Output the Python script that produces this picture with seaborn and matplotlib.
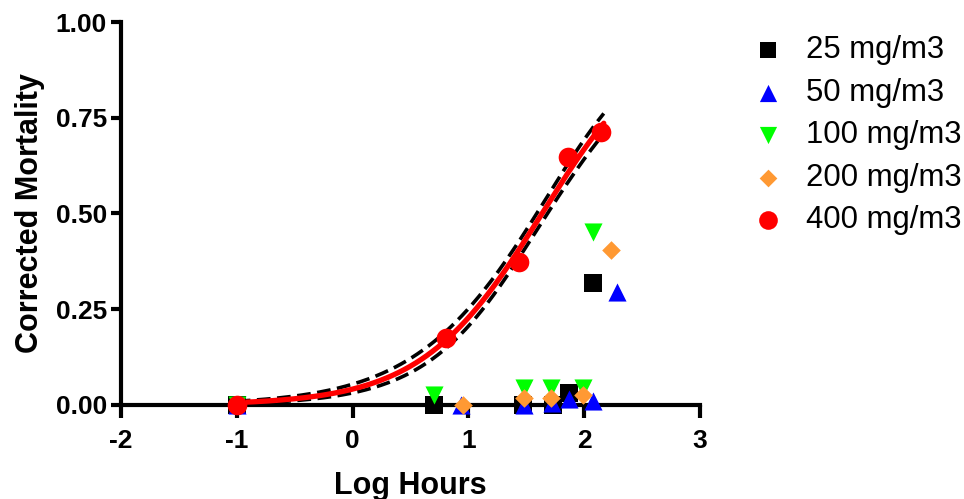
import numpy as np
import pandas as pd
import matplotlib
matplotlib.use("Agg")
import matplotlib.pyplot as plt
import seaborn as sns

# data (x = log hours, y = corrected mortality)
x_25 = [-1.0, 0.70, 1.47, 1.73, 1.87, 2.08]
y_25 = [0.0, 0.0, 0.0, 0.0, 0.03, 0.318]
x_50 = [-1.0, 0.94, 1.48, 1.72, 1.87, 2.08, 2.28]
y_50 = [0.0, 0.0, 0.0, 0.005, 0.015, 0.01, 0.295]
x_100 = [-1.0, 0.70, 1.48, 1.71, 1.99, 2.08]
y_100 = [0.0, 0.026, 0.044, 0.044, 0.044, 0.452]
x_200 = [-1.0, 0.95, 1.48, 1.71, 1.99, 2.23]
y_200 = [0.0, 0.0, 0.018, 0.018, 0.026, 0.405]
x_400 = [-1.0, 0.81, 1.44, 1.86, 2.15]
y_400 = [0.0, 0.175, 0.373, 0.648, 0.713]

labels = ["25 mg/m3", "50 mg/m3", "100 mg/m3", "200 mg/m3", "400 mg/m3"]
colors = ["#000000", "#0000FF", "#00FF00", "#FF9933", "#FF0000"]
markers = ["s", "^", "v", "D", "o"]
sizes = [150, 170, 170, 90, 200]

sns.set_style("white", {"text.color": "black", "axes.labelcolor": "black",
                        "xtick.color": "black", "ytick.color": "black"})
plt.rcParams["font.family"] = ["Liberation Sans", "DejaVu Sans"]
plt.rcParams["axes.unicode_minus"] = False

fig = plt.figure(figsize=(9.64, 4.99), dpi=100)
ax = fig.add_axes([0.1255, 0.1884, 0.6005, 0.7675])

# logistic fit of the 400 mg/m3 points in logit space, band = fit +/- 1 se
fx = np.array(x_400[1:])
fy = np.array(y_400[1:])
logit = np.log(fy / (1 - fy))
b, a = np.polyfit(fx, logit, 1)
resid = logit - (a + b * fx)
s = np.sqrt(np.sum(resid ** 2) / (len(fx) - 2))
sxx = np.sum((fx - fx.mean()) ** 2)
xx = np.linspace(-1.0, 2.17, 200)
pred = a + b * xx
se = s * np.sqrt(1 / len(fx) + (xx - fx.mean()) ** 2 / sxx)
inv = lambda v: 1 / (1 + np.exp(-v))

ax.plot(xx, inv(pred + se), color="black", ls=(0, (3.8, 1.8)), lw=2.6, zorder=2)
ax.plot(xx, inv(pred - se), color="black", ls=(0, (3.8, 1.8)), lw=2.6, zorder=2)
ax.plot(xx, inv(pred), color="#FF0000", lw=3.8, zorder=3, solid_capstyle="round")

series = [(x_25, y_25), (x_50, y_50), (x_100, y_100), (x_200, y_200), (x_400, y_400)]
for i, (xs, ys) in enumerate(series):
    df = pd.DataFrame({"Log Hours": xs, "Corrected Mortality": ys})
    sns.scatterplot(data=df, x="Log Hours", y="Corrected Mortality", ax=ax,
                    color=colors[i], marker=markers[i], s=sizes[i], linewidth=0,
                    label=labels[i], zorder=4 + i, clip_on=False)

ax.set_xlim(-2, 3)
ax.set_ylim(0, 1)
ax.set_xticks([-2, -1, 0, 1, 2, 3])
ax.set_yticks([0, 0.25, 0.5, 0.75, 1.0])
ax.set_yticklabels(["0.00", "0.25", "0.50", "0.75", "1.00"])
ax.set_xlabel("Log Hours", fontsize=22, fontweight="bold", labelpad=13)
ax.set_ylabel("Corrected Mortality", fontsize=22, fontweight="bold", labelpad=8)
for lab in ax.get_xticklabels() + ax.get_yticklabels():
    lab.set_fontweight("bold")
ax.tick_params(axis="both", labelsize=19, width=3, color="black",
               direction="out", bottom=True, left=True)
ax.tick_params(axis="x", length=9, pad=8)
ax.tick_params(axis="y", length=7, pad=3)
sns.despine(ax=ax)
for sp in ["left", "bottom"]:
    ax.spines[sp].set_linewidth(3)
    ax.spines[sp].set_color("black")

ax.legend_.remove()
h, l = ax.get_legend_handles_labels()
fig.legend(h, l, loc="upper left", bbox_to_anchor=(0.752, 0.985), frameon=False,
           fontsize=22.4, handletextpad=0.7, labelspacing=0.4, handlelength=1.0,
           markerscale=0.95)

fig.savefig("out.png", dpi=100)
